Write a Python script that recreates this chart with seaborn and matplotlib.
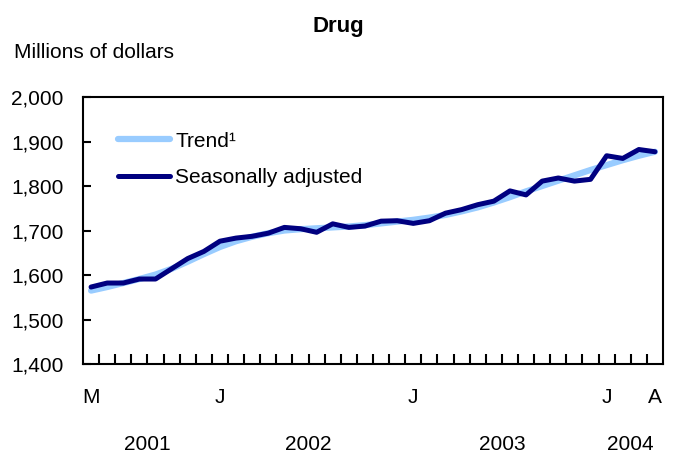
import pandas as pd
import matplotlib
matplotlib.use("Agg")
import matplotlib.pyplot as plt
import matplotlib.ticker as mticker
import seaborn as sns

# monthly, May 2001 .. April 2004
months = pd.date_range("2001-05-01", "2004-04-01", freq="MS")

seasonally_adjusted = [
    1573, 1582, 1582, 1591, 1591, 1614, 1637, 1653, 1676, 1683,
    1687, 1694, 1707, 1704, 1696, 1715, 1707, 1710, 1721, 1722,
    1716, 1722, 1739, 1747, 1758, 1766, 1789, 1780, 1811, 1818,
    1811, 1815, 1868, 1862, 1882, 1877,
]
trend = [
    1565, 1573, 1582, 1591, 1601, 1614, 1630, 1647, 1663, 1676,
    1686, 1694, 1700, 1703, 1705, 1707, 1709, 1712, 1716, 1720,
    1724, 1729, 1735, 1743, 1752, 1763, 1775, 1788, 1800, 1812,
    1824, 1836, 1847, 1858, 1868, 1877,
]

month_labels = {0: "M", 8: "J", 20: "J", 32: "J", 35: "A"}
years = ["2001", "2002", "2003", "2004"]

idx = list(range(len(months)))
df = pd.concat([
    pd.DataFrame({"i": idx, "value": trend, "series": "Trend\u00b9"}),
    pd.DataFrame({"i": idx, "value": seasonally_adjusted, "series": "Seasonally adjusted"}),
])

sns.set_style("white")
plt.rcParams["font.family"] = ["Liberation Sans", "DejaVu Sans"]
plt.rcParams["text.color"] = "black"
plt.rcParams["xtick.color"] = "black"
plt.rcParams["ytick.color"] = "black"

fig = plt.figure(figsize=(6.76, 4.58), dpi=100)
ax = fig.add_axes([0.1228, 0.2052, 0.858, 0.583])

sns.lineplot(
    data=df, x="i", y="value", hue="series",
    palette={"Trend\u00b9": "#99ccff", "Seasonally adjusted": "#000080"},
    ax=ax,
)
widths = [4.5, 3.6]
for ln, w in zip(ax.lines[:2], widths):
    ln.set_linewidth(w)
    ln.set_solid_capstyle("round")
    ln.set_solid_joinstyle("round")

ax.set_xlim(-0.5, len(months) - 0.5)
ax.set_ylim(1400, 2000)
ax.set_yticks(range(1400, 2001, 100))
ax.yaxis.set_major_formatter(mticker.FuncFormatter(lambda v, p: f"{int(v):,}"))
ax.tick_params(axis="y", left=True, direction="in", length=6, width=1.5,
               labelsize=15, pad=14, labelcolor="black")

ax.set_xticks(list(range(len(months) - 1)))
ax.set_xticks([i + 0.5 for i in range(len(months) - 1)], minor=True)
ax.set_xticklabels([])
ax.tick_params(axis="x", which="major", bottom=False, length=0)
ax.tick_params(axis="x", which="minor", bottom=True, direction="in", length=7, width=1.5)
ax.set_xlabel("")
ax.set_ylabel("")

for s in ax.spines.values():
    s.set_linewidth(1.5)
    s.set_color("black")

tr = ax.get_xaxis_transform()
for i, lab in month_labels.items():
    ax.text(i, -0.124, lab, transform=tr, ha="center", va="center", fontsize=15)

# year labels centred on each year's months
for y in years:
    pos = [i for i, m in enumerate(months) if str(m.year) == y]
    ax.text((pos[0] + pos[-1]) / 2, -0.303, y, transform=tr,
            ha="center", va="center", fontsize=15)

leg = ax.legend(
    loc="upper left", bbox_to_anchor=(0.06, 0.87), frameon=False,
    fontsize=15, handlelength=2.5, handletextpad=0.25, labelspacing=0.85,
    borderpad=0, borderaxespad=0,
)
for h, w in zip(leg.get_lines(), widths):
    h.set_linewidth(w)
    h.set_solid_capstyle("round")

fig.text(0.5, 0.942, "Drug", ha="center", va="center", fontsize=16, fontweight="bold")
fig.text(0.02, 0.886, "Millions of dollars", ha="left", va="center", fontsize=15)

fig.savefig("out.png", dpi=100)
